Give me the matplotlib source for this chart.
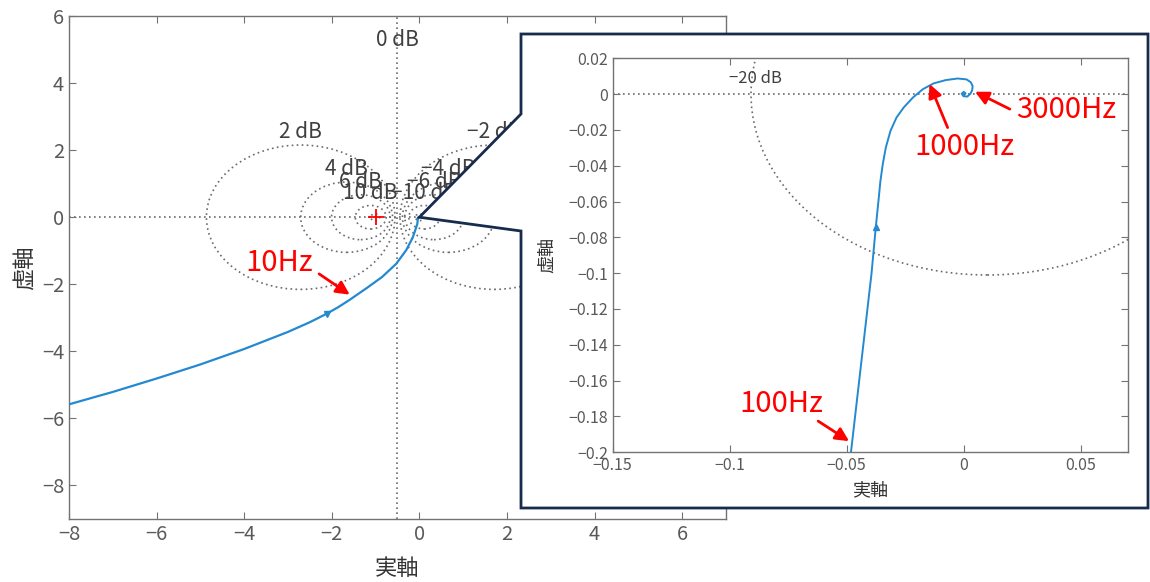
import numpy as np
import matplotlib
matplotlib.use("Agg")
import matplotlib.pyplot as plt
from matplotlib.patches import Circle, Polygon

plt.rcParams['font.family'] = ['Noto Sans CJK JP', 'DejaVu Sans']

curve_re = [-8.0, -7.0, -6.0, -5.0, -4.0, -3.0, -2.5, -2.12, -1.85, -1.6,
            -1.2, -0.85, -0.53, -0.30, -0.15, -0.075,
            -0.0482, -0.0438, -0.0394, -0.0376, -0.0363, -0.0356, -0.0346,
            -0.0333, -0.0313, -0.0287, -0.0256, -0.0217, -0.0174, -0.0128,
            -0.0077, -0.0026, 0.0012, 0.0030, 0.0038, 0.0036, 0.0029, 0.0015,
            -0.0001, -0.0009, 0.0000, 0.0008, 0.0004]
curve_im = [-5.58, -5.21, -4.81, -4.39, -3.93, -3.42, -3.13, -2.88, -2.68, -2.47,
            -2.11, -1.78, -1.39, -0.98, -0.60, -0.31,
            -0.200, -0.150, -0.100, -0.0744, -0.0577, -0.0484, -0.0391,
            -0.0298, -0.0205, -0.0130, -0.0074, -0.0019, 0.0028, 0.0060,
            0.0078, 0.0087, 0.0082, 0.0066, 0.0045, 0.0022, 0.0003, -0.0014,
            -0.0012, 0.0002, 0.0012, 0.0004, -0.0001]
arrow_main_idx = 7
arrow_inset_idx = 19

# M-circle levels (dB) and which ones get a label on the main plot
db_levels = [-20, -10, -6, -4, -2, 0, 2, 4, 6, 10, 20]
db_labeled_main = [-10, -6, -4, -2, 2, 4, 6, 10]

# frequency annotations: (label, text pos, arrow tail, arrow tip)
main_notes = [("10Hz", (-3.19, -1.36), (-2.29, -1.69), (-1.59, -2.31))]
inset_notes = [
    ("100Hz", (-0.078, -0.173), (-0.0622, -0.1826), (-0.0490, -0.1938)),
    ("1000Hz", (0.0004, -0.0295), (-0.0069, -0.0187), (-0.0146, 0.0056)),
    ("3000Hz", (0.0439, -0.0089), (0.0197, -0.0084), (0.0048, 0.0013)),
]

line_c = '#2389d0'
grid_c = '0.42'
axis_c = '0.45'
tick_c = '0.35'
navy = '#172b4d'
dots = (0, (1, 2))

fig = plt.figure(figsize=(11.5, 5.82), dpi=100)


def style_axes(ax, tsize):
    for s in ax.spines.values():
        s.set_color(axis_c)
        s.set_linewidth(1.0)
    ax.tick_params(direction='in', top=True, right=True, length=5,
                   color=axis_c, labelcolor=tick_c, labelsize=tsize)


def draw_grid(ax):
    for db in db_levels:
        if db == 0:
            ax.axvline(-0.5, color=grid_c, ls=dots, lw=1.2, zorder=1)
            continue
        m = 10 ** (db / 20)
        c = m * m / (1 - m * m)
        r = abs(m / (1 - m * m))
        ax.add_patch(Circle((c, 0), r, fill=False, ec=grid_c, ls=dots, lw=1.2, zorder=1))
    ax.axhline(0, color=grid_c, ls=dots, lw=1.2, zorder=1)


arrow_kw = dict(arrowstyle='-|>', color='red', lw=2, mutation_scale=20,
                shrinkA=0, shrinkB=0)

# ---- main axes
ax = fig.add_axes([0.06, 0.1082, 0.5713, 0.8643])
ax.set_xlim(-8, 7)
ax.set_ylim(-9, 6)
draw_grid(ax)
for db in db_labeled_main:
    m = 10 ** (db / 20)
    c = m * m / (1 - m * m)
    r = abs(m / (1 - m * m))
    lab = '\u2212%d dB' % abs(db) if db < 0 else '%d dB' % db
    ax.text(c, r + 0.05, lab, ha='center', va='bottom', fontsize=15, color='0.25')
ax.text(-0.5, 4.95, '0 dB', ha='center', va='bottom', fontsize=15, color='0.25')
ax.plot(curve_re, curve_im, color=line_c, lw=1.6, zorder=3)
ax.plot(curve_re[arrow_main_idx], curve_im[arrow_main_idx], 'v', color=line_c, ms=5, zorder=3)
ax.plot(-1, 0, '+', color='red', ms=11, mew=1.3, zorder=3)
ax.set_xticks(np.arange(-8, 7, 2))
ax.set_yticks(np.arange(-8, 7, 2))
style_axes(ax, 14.5)
ax.set_xlabel('実軸', fontsize=16, color='0.2', labelpad=9)
ax.set_ylabel('虚軸', fontsize=16, color='0.2', labelpad=4)
for lab, tpos, tail, tip in main_notes:
    ax.text(*tpos, lab, color='red', fontsize=21, ha='center', va='center')
    ax.annotate('', xy=tip, xytext=tail, arrowprops=arrow_kw)

# ---- callout box
tip_fig = fig.transFigure.inverted().transform(ax.transData.transform((0, 0)))
W, H = 1150.0, 582.0
box_px = [(521, 114), (521, 34), (1148, 34), (1148, 508), (521, 508), (521, 231)]
pts = [tip_fig] + [(x / W, 1 - y / H) for x, y in box_px]
fig.patches.append(Polygon(pts, closed=True, fc='white', ec=navy, lw=2.0,
                           transform=fig.transFigure, figure=fig, zorder=1))

# ---- inset axes
ax2 = fig.add_axes([0.5328, 0.2229, 0.4477, 0.677])
ax2.set_zorder(2)
ax2.set_xlim(-0.15, 0.07)
ax2.set_ylim(-0.2, 0.02)
draw_grid(ax2)
ax2.text(-0.089, 0.0085, '\u221220 dB', ha='center', va='center', fontsize=12, color='0.25')
ax2.plot(curve_re, curve_im, color=line_c, lw=1.4, zorder=3)
ax2.plot(curve_re[arrow_inset_idx], curve_im[arrow_inset_idx], '^', color=line_c, ms=5, zorder=3)
ax2.set_xticks([-0.15, -0.1, -0.05, 0, 0.05])
ax2.set_xticklabels(['\u22120.15', '\u22120.1', '\u22120.05', '0', '0.05'])
yt = [0.02, 0, -0.02, -0.04, -0.06, -0.08, -0.1, -0.12, -0.14, -0.16, -0.18, -0.2]
ax2.set_yticks(yt)
ax2.set_yticklabels([('%g' % v).replace('-', '\u2212') for v in yt])
style_axes(ax2, 11.5)
ax2.set_xlabel('実軸', fontsize=13, color='0.2', labelpad=5)
ax2.set_ylabel('虚軸', fontsize=13, color='0.2', labelpad=9)
for lab, tpos, tail, tip in inset_notes:
    ax2.text(*tpos, lab, color='red', fontsize=21, ha='center', va='center')
    ax2.annotate('', xy=tip, xytext=tail, arrowprops=arrow_kw)

fig.savefig('out.png', dpi=100)
